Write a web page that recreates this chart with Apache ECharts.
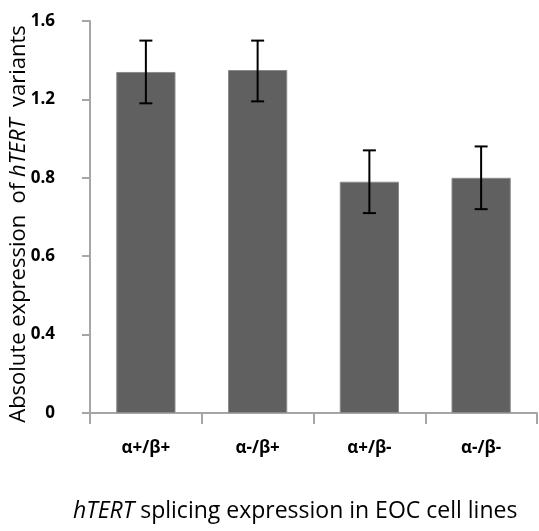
<!DOCTYPE html>
<html lang="en">
<head>
    <meta charset="UTF-8">
    <title>hTERT variants</title>
    <script src="https://cdn.jsdelivr.net/npm/echarts@6/dist/echarts.min.js"></script>
    <style type="text/css">
        html, body { margin: 0; padding: 0; background: #fff; }
        #main { width: 539px; height: 531px; }
    </style>
</head>
<body>
<div id="main"></div>
<script type="text/javascript">
    // categories and values
    var categories = ['α+/β+', 'α-/β+', 'α+/β-', 'α-/β-'];
    var means = [1.34, 1.35, 0.79, 0.80];
    var errLow = [1.18, 1.19, 0.71, 0.72];
    var errHigh = [1.50, 1.50, 0.94, 0.96];
    // the printed y tick labels (evenly spaced on the axis)
    var yTickLabels = ['0', '0.4', '0.6', '0.8', '1.2', '1.6'];
    var yTickValues = [0, 0.4, 0.6, 0.8, 1.2, 1.6];

    // place a value on the evenly spaced tick positions of the axis
    function toAxis(v) {
        for (var i = 1; i < yTickValues.length; i++) {
            if (v <= yTickValues[i]) {
                var a = yTickValues[i - 1], b = yTickValues[i];
                return (i - 1) + (v - a) / (b - a);
            }
        }
        return yTickValues.length - 1;
    }

    var barData = means.map(toAxis);
    var errData = categories.map(function (c, i) {
        return [i, toAxis(errLow[i]), toAxis(errHigh[i])];
    });

    var font = '"Open Sans", "Noto Sans", sans-serif';
    var axisGray = '#a6a6a6';

    var myChart = echarts.init(document.getElementById('main'));

    var option = {
        backgroundColor: '#fff',
        animation: false,
        title: {
            text: '{i|hTERT}{n| splicing expression in EOC cell lines}',
            left: 68,
            top: 495,
            textStyle: {
                fontWeight: 'normal',
                fontSize: 23,
                rich: {
                    i: { fontFamily: font, fontSize: 23, fontStyle: 'italic', fontWeight: 'normal', color: '#000' },
                    n: { fontFamily: font, fontSize: 23, fontWeight: 'normal', color: '#000' }
                }
            }
        },
        grid: { left: 90, right: 2, top: 21, bottom: 118, outerBoundsMode: 'none', containLabel: false },
        xAxis: {
            type: 'category',
            data: categories,
            axisLine: { lineStyle: { color: axisGray, width: 2 } },
            axisTick: { show: true, alignWithLabel: false, length: 11, lineStyle: { color: axisGray, width: 2 } },
            axisLabel: { margin: 27, fontFamily: font, fontSize: 17, fontWeight: 'bold', color: '#000' }
        },
        yAxis: {
            type: 'value',
            min: 0,
            max: 5,
            interval: 1,
            name: '{n|Absolute expression  of }{i|hTERT}{n|  variants}',
            nameLocation: 'middle',
            nameGap: 60,
            nameMoveOverlap: false,
            nameTextStyle: {
                fontSize: 22,
                fontFamily: font,
                padding: [0, 14, 0, 0],
                rich: {
                    i: { fontFamily: font, fontSize: 22, fontStyle: 'italic', color: '#000' },
                    n: { fontFamily: font, fontSize: 22, color: '#000' }
                }
            },
            axisLine: { show: true, lineStyle: { color: axisGray, width: 2 } },
            axisTick: { show: true, length: 8, lineStyle: { color: axisGray, width: 2 } },
            splitLine: { show: false },
            axisLabel: {
                margin: 35,
                fontFamily: font,
                fontSize: 17,
                fontWeight: 'bold',
                color: '#000',
                formatter: function (v) { return yTickLabels[v]; }
            }
        },
        series: [
            {
                type: 'bar',
                data: barData,
                barWidth: '53%',
                itemStyle: { color: '#606060', borderColor: '#8a8a8a', borderWidth: 1 }
            },
            {
                type: 'custom',
                data: errData,
                z: 10,
                renderItem: function (params, api) {
                    var x = api.value(0);
                    var lo = api.coord([x, api.value(1)]);
                    var hi = api.coord([x, api.value(2)]);
                    var half = 6.5;
                    var st = { stroke: '#000', lineWidth: 2 };
                    return {
                        type: 'group',
                        children: [
                            { type: 'line', shape: { x1: hi[0], y1: hi[1], x2: lo[0], y2: lo[1] }, style: st },
                            { type: 'line', shape: { x1: hi[0] - half, y1: hi[1], x2: hi[0] + half, y2: hi[1] }, style: st },
                            { type: 'line', shape: { x1: lo[0] - half, y1: lo[1], x2: lo[0] + half, y2: lo[1] }, style: st }
                        ]
                    };
                }
            }
        ]
    };

    myChart.setOption(option);
</script>
</body>
</html>
